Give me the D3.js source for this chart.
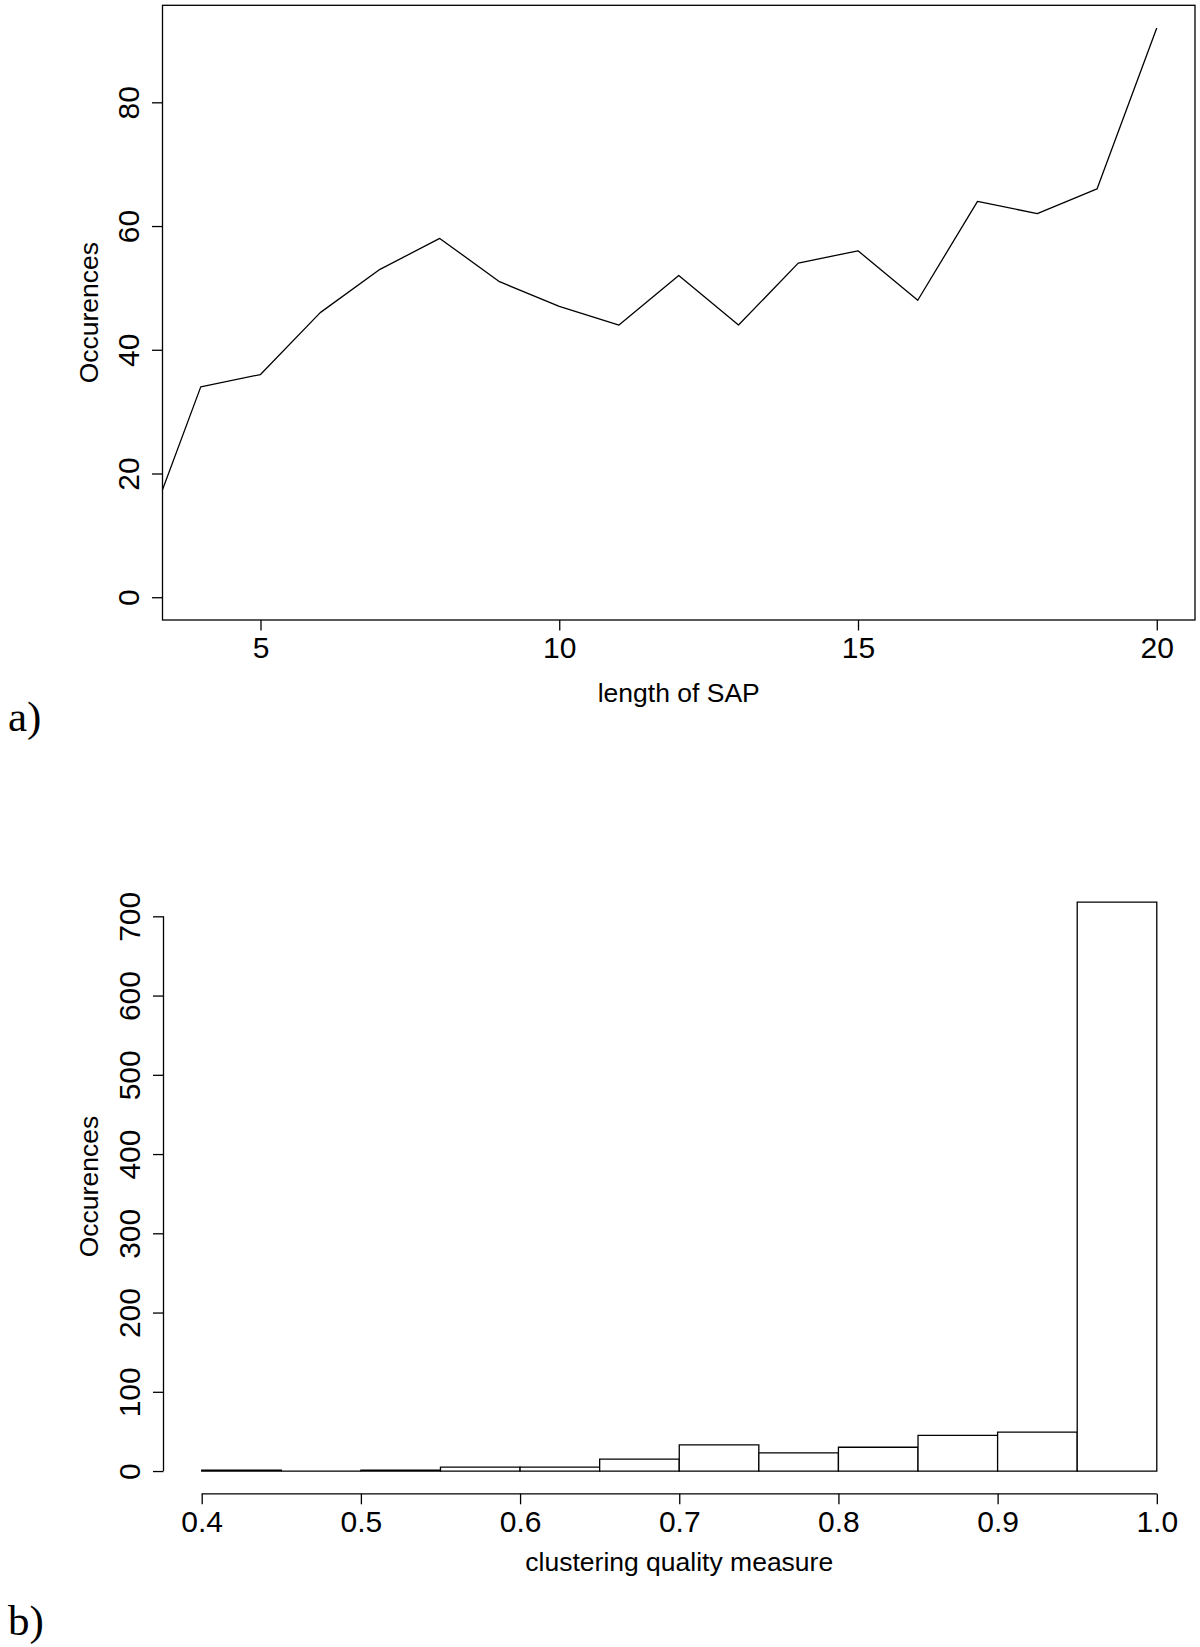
<!DOCTYPE html>
<html>
<head>
<meta charset="utf-8">
<script src="https://cdn.jsdelivr.net/npm/d3@7"></script>
<style>
  body { margin: 0; background: #fff; }
  svg { display: block; }
  text { font-family: "Liberation Sans", Arial, Helvetica, sans-serif; fill: #000; }
  .panel-tag { font-family: "Liberation Serif", "DejaVu Serif", serif; }
</style>
</head>
<body>
<script>
var width = 1200,
    height = 1647

// a) SAP length vs occurences
var sapLength = [3, 4, 5, 6, 7, 8, 9, 10, 11, 12, 13, 14, 15, 16, 17, 18, 19, 20]
var sapCount = [8, 34, 36, 46, 53, 58, 51, 47, 44, 52, 44, 54, 56, 48, 64, 62, 66, 92]
var xTicksA = [5, 10, 15, 20]
var yTicksA = [0, 20, 40, 60, 80]

// b) histogram of clustering quality measure
var binStart = [0.40, 0.45, 0.50, 0.55, 0.60, 0.65, 0.70, 0.75, 0.80, 0.85, 0.90, 0.95]
var binCount = [1, 0, 1, 5, 5, 15, 33, 23, 30, 45, 49, 718]
var binWidth = 0.05
var xTicksB = [0.4, 0.5, 0.6, 0.7, 0.8, 0.9, 1.0]
var yTicksB = [0, 100, 200, 300, 400, 500, 600, 700]

var tickFont = 30,
    labFont = 26.5,
    tickLen = 10.5,
    lw = 1.3

// R style axis limits: range padded by 4% each side
function pad(lo, hi) {
    var r = hi - lo
    return [lo - 0.04 * r, hi + 0.04 * r]
}

var svg = d3.select('body').append('svg')
    .attr("width", width)
    .attr("height", height)

// ---------- panel a ----------
var a = {left: 162.5, right: 1195, top: 5.3, bottom: 620}

var xA = d3.scaleLinear()
    .domain(pad(4, 20))
    .range([a.left, a.right])

var yA = d3.scaleLinear()
    .domain(pad(0, d3.max(sapCount)))
    .range([a.bottom, a.top])

svg.append("clipPath")
    .attr("id", "clipA")
  .append("rect")
    .attr("x", a.left).attr("y", a.top)
    .attr("width", a.right - a.left).attr("height", a.bottom - a.top)

var line = d3.line()
    .x(function(d, i) { return xA(sapLength[i]) })
    .y(function(d) { return yA(d) })

svg.append("path")
    .datum(sapCount)
    .attr("clip-path", "url(#clipA)")
    .attr("d", line)
    .style("fill", "none")
    .style("stroke", "#000")
    .style("stroke-width", lw)
    .style("stroke-linejoin", "round")

svg.append("rect")
    .attr("x", a.left).attr("y", a.top)
    .attr("width", a.right - a.left).attr("height", a.bottom - a.top)
    .style("fill", "none")
    .style("stroke", "#000")
    .style("stroke-width", lw)

var axA = svg.append("g")
    .attr("transform", "translate(0," + a.bottom + ")")
    .call(d3.axisBottom(xA).tickValues(xTicksA).tickSize(tickLen).tickSizeOuter(0).tickFormat(d3.format("d")))
var ayA = svg.append("g")
    .attr("transform", "translate(" + a.left + ",0)")
    .call(d3.axisLeft(yA).tickValues(yTicksA).tickSize(tickLen).tickSizeOuter(0).tickFormat(d3.format("d")))

svg.append("text")
    .attr("x", (a.left + a.right) / 2)
    .attr("y", a.bottom + 82)
    .attr("text-anchor", "middle")
    .style("font-size", labFont + "px")
    .text("length of SAP")

svg.append("text")
    .attr("transform", "translate(" + (a.left - 65) + "," + ((a.top + a.bottom) / 2) + ") rotate(-90)")
    .attr("text-anchor", "middle")
    .style("font-size", labFont + "px")
    .text("Occurences")

svg.append("text")
    .attr("class", "panel-tag")
    .attr("x", 8)
    .attr("y", 731)
    .style("font-size", "43px")
    .text("a)")

// ---------- panel b ----------
var b = {left: 163.5, right: 1195, top: 879.3, bottom: 1493.8}

var xB = d3.scaleLinear()
    .domain(pad(d3.min(binStart), d3.max(binStart) + binWidth))
    .range([b.left, b.right])

var yB = d3.scaleLinear()
    .domain(pad(0, d3.max(binCount)))
    .range([b.bottom, b.top])

// bars as closed paths so that empty bins still show as a flat line
svg.append("g")
    .selectAll("path")
    .data(binCount)
    .enter()
    .append("path")
    .attr("d", function(d, i) {
        var x0 = xB(binStart[i]), x1 = xB(binStart[i] + binWidth)
        return "M" + x0 + "," + yB(0) + "V" + yB(d) + "H" + x1 + "V" + yB(0) + "Z"
    })
    .style("fill", "#fff")
    .style("stroke", "#000")
    .style("stroke-width", lw)

var axB = svg.append("g")
    .attr("transform", "translate(0," + b.bottom + ")")
    .call(d3.axisBottom(xB).tickValues(xTicksB).tickSize(tickLen).tickSizeOuter(0).tickFormat(d3.format(".1f")))
var ayB = svg.append("g")
    .attr("transform", "translate(" + b.left + ",0)")
    .call(d3.axisLeft(yB).tickValues(yTicksB).tickSize(tickLen).tickSizeOuter(0).tickFormat(d3.format("d")))

// R draws the axis line only between first and last tick
axB.select(".domain").attr("d", "M" + xB(xTicksB[0]) + ",0H" + xB(xTicksB[xTicksB.length - 1]))
ayB.select(".domain").attr("d", "M0," + yB(yTicksB[0]) + "V" + yB(yTicksB[yTicksB.length - 1]))
axA.select(".domain").remove()
ayA.select(".domain").remove()

svg.append("text")
    .attr("x", (b.left + b.right) / 2)
    .attr("y", b.bottom + 77)
    .attr("text-anchor", "middle")
    .style("font-size", labFont + "px")
    .text("clustering quality measure")

svg.append("text")
    .attr("transform", "translate(" + (b.left - 66) + "," + ((b.top + b.bottom) / 2) + ") rotate(-90)")
    .attr("text-anchor", "middle")
    .style("font-size", labFont + "px")
    .text("Occurences")

svg.append("text")
    .attr("class", "panel-tag")
    .attr("x", 8)
    .attr("y", 1635)
    .style("font-size", "43px")
    .text("b)")

// common axis styling
;[axA, axB].forEach(function(g) {
    g.selectAll(".tick line").style("stroke", "#000").style("stroke-width", lw)
    g.select(".domain").style("stroke", "#000").style("stroke-width", lw)
    g.selectAll(".tick text")
        .attr("y", 38)
        .attr("dy", 0)
        .style("font-size", tickFont + "px")
        .style("font-family", "Liberation Sans, Arial, sans-serif")
})
;[ayA, ayB].forEach(function(g) {
    g.selectAll(".tick line").style("stroke", "#000").style("stroke-width", lw)
    g.select(".domain").style("stroke", "#000").style("stroke-width", lw)
    g.selectAll(".tick text")
        .attr("transform", "rotate(-90)")
        .attr("x", 0)
        .attr("y", -24)
        .attr("dy", 0)
        .attr("text-anchor", "middle")
        .style("font-size", tickFont + "px")
        .style("font-family", "Liberation Sans, Arial, sans-serif")
})
</script>
</body>
</html>
